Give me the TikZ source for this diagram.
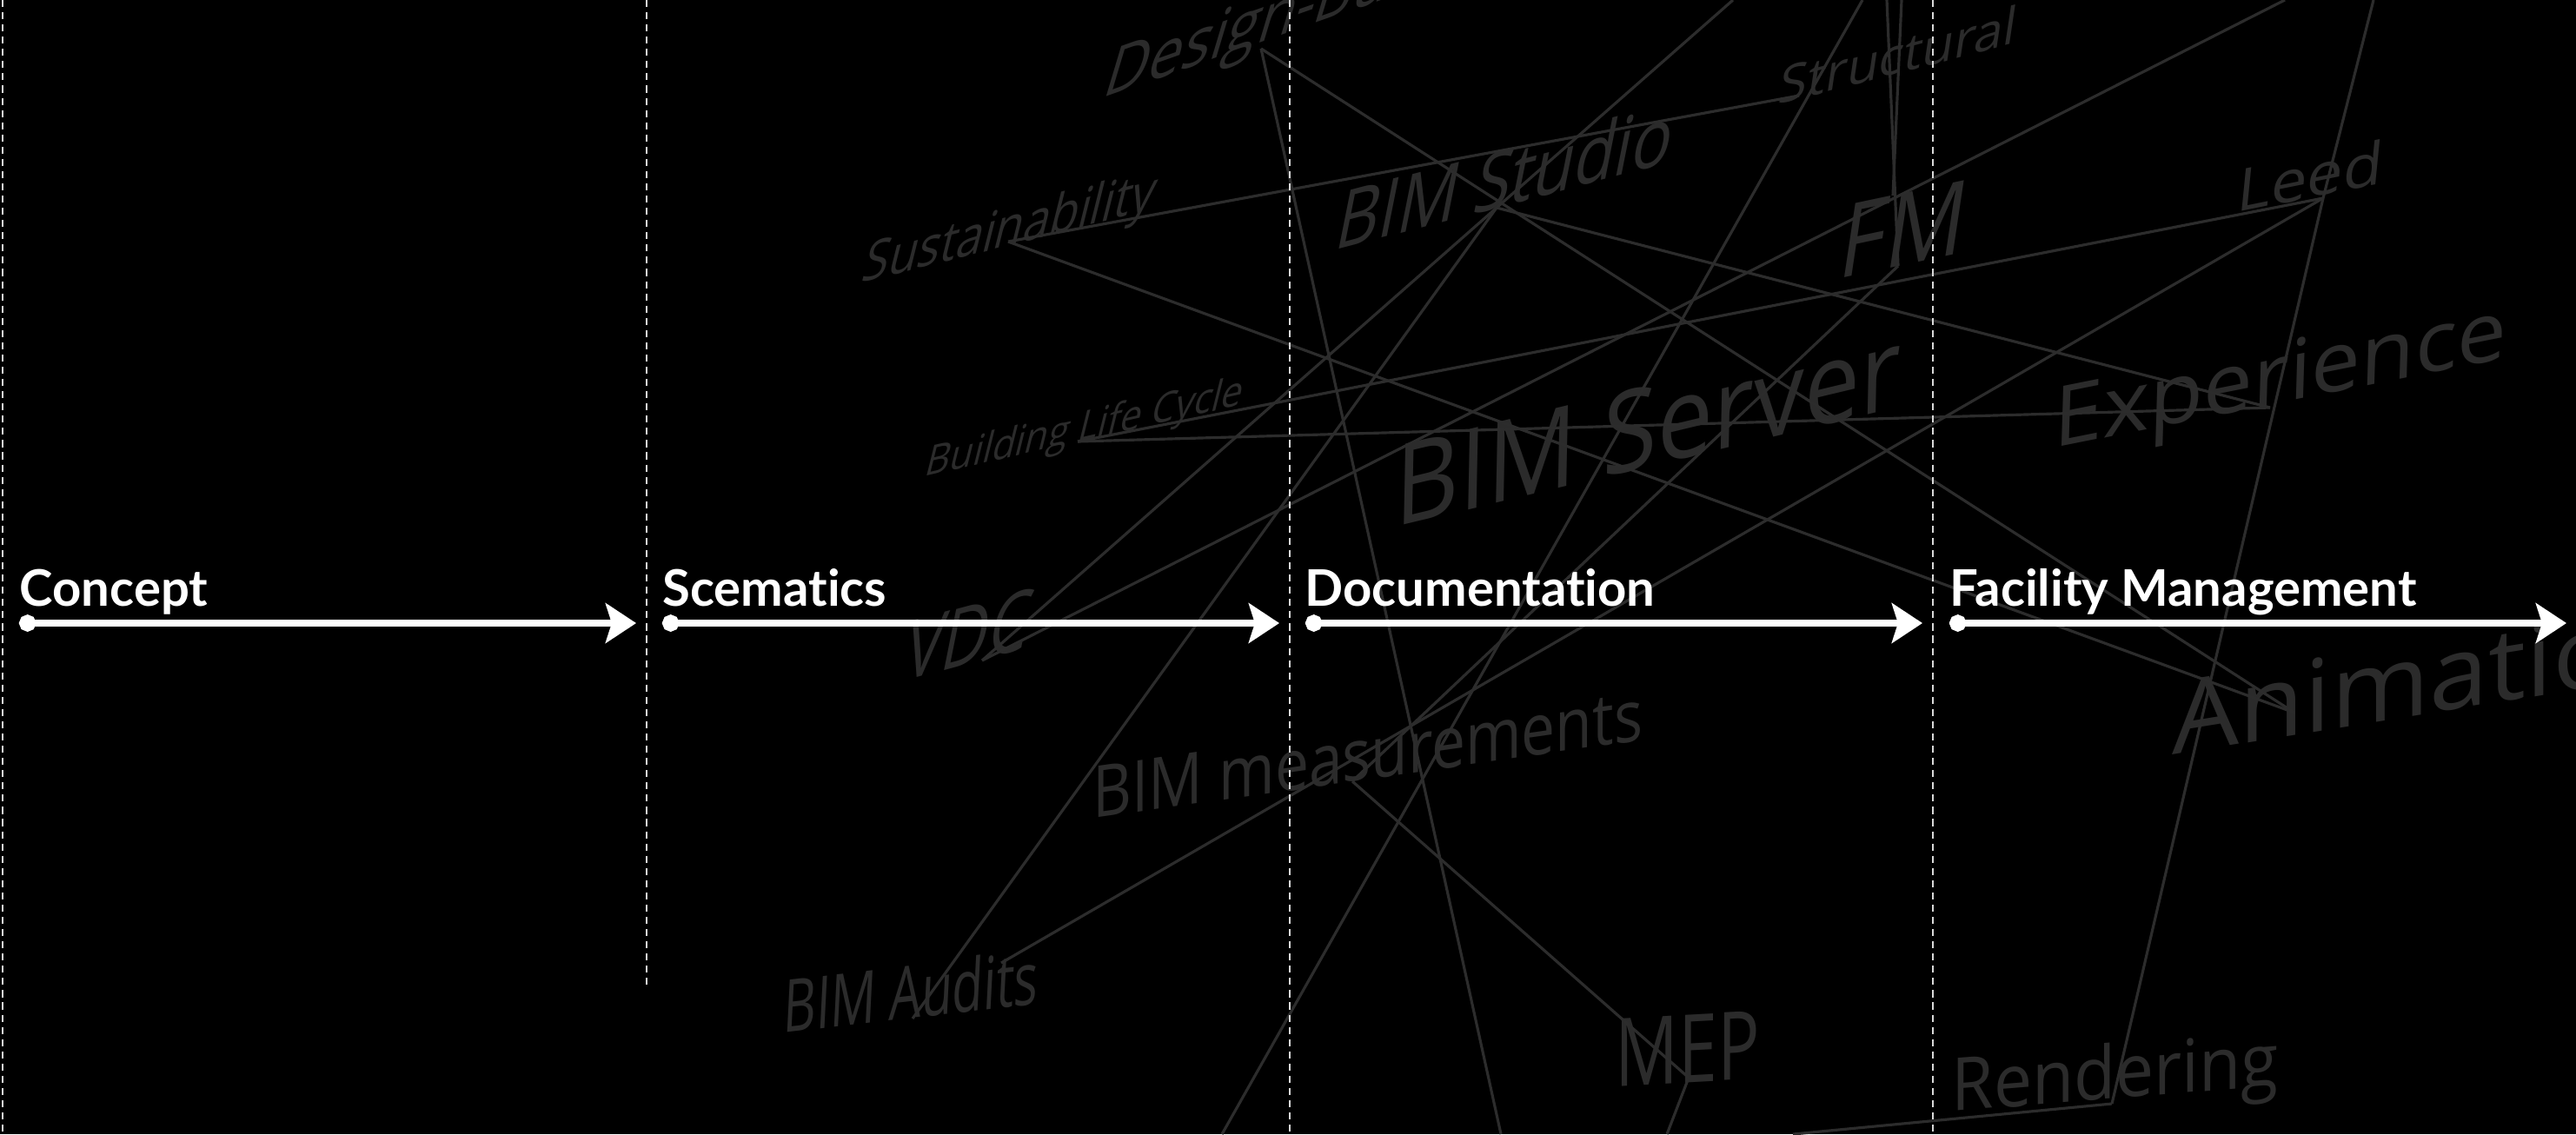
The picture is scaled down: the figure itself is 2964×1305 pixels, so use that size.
\documentclass[tikz,border=0pt]{standalone}
\usepackage{fontspec}
\usetikzlibrary{arrows.meta}
\newfontfamily\wordfont{Open Sans}
\newfontfamily\phasefont[Ligatures=NoCommon]{Lato}
\definecolor{wordgray}{HTML}{2B2B2B}
\definecolor{linkgray}{HTML}{2C2C2C}
\tikzset{
  word/.style={text=wordgray, inner sep=0pt, anchor=base west},
  link/.style={linkgray, line width=0.9pt},
  phase/.style={text=white, inner sep=0pt, anchor=base west, font=\phasefont\bfseries\fontsize{16.5}{18}\selectfont},
  phasearrow/.style={white, line width=2.3pt, {Circle[length=5.5pt]}-{Stealth[length=10pt,width=13pt,inset=2pt]}},
  divider/.style={white!85!black, line width=0.45pt, dash pattern=on 2.3pt off 1.7pt}
}

\begin{document}
\begin{tikzpicture}[x=0.01cm,y=-0.01cm]
\useasboundingbox (0,0) rectangle (2964,1305);
\fill[black] (0,0) rectangle (2964,1305);
\clip (0,0) rectangle (2964,1305);

% background words
\node[word, font=\wordfont\fontsize{23}{27}\selectfont, cm={0.85,0.3,0.3,1,(0,0)}] (designbuild) at (1266,114) {Design-Build};
\node[word, font=\wordfont\fontsize{18.5}{22}\selectfont, cm={0.83,0.21,0.25,1,(0,0)}] (sustain) at (989,326) {Sustainability};
\node[word, font=\wordfont\fontsize{14}{17}\selectfont, cm={0.88,0.2,0.25,1,(0,0)}] (lifecycle) at (1062,549) {Building Life Cycle};
\node[word, font=\wordfont\fontsize{27}{32}\selectfont, cm={0.8,0.21,0.2,1,(0,0)}] (studio) at (1533,289) {BIM Studio};
\node[word, font=\wordfont\fontsize{17}{20}\selectfont, cm={1,0.26,0.15,1,(0,0)}] (structural) at (2044,121) {Structural};
\node[word, font=\wordfont\fontsize{34}{40}\selectfont, cm={0.85,0.18,0.15,1,(0,0)}] (fm) at (2112,322) {FM};
\node[word, font=\wordfont\fontsize{19.5}{23}\selectfont, cm={1.08,0.22,0.1,1,(0,0)}] (leed) at (2572,245) {Leed};
\node[word, font=\wordfont\fontsize{27.5}{33}\selectfont, cm={1.05,0.21,0.03,1,(0,0)}] (experience) at (2362,516) {Experience};
\node[word, font=\wordfont\fontsize{37}{44}\selectfont, cm={0.88,0.21,0.02,1,(0,0)}] (server) at (1604,607) {BIM Server};
\node[word, font=\wordfont\fontsize{28}{33}\selectfont, cm={0.74,0.2,0.2,1,(0,0)}] (vdc) at (1036,785) {VDC};
\node[word, font=\wordfont\fontsize{23.5}{28}\selectfont, cm={0.84,0.12,0,1,(0,0)}] (measure) at (1257,942) {BIM measurements};
\node[word, font=\wordfont\fontsize{33}{39}\selectfont, cm={1.05,0.17,0,1,(0,0)}] (animation) at (2499,869) {Animation};
\node[word, font=\wordfont\fontsize{24}{28}\selectfont, cm={0.69,0.08,0.05,1,(0,0)}] (audits) at (900,1189) {BIM Audits};
\node[word, font=\wordfont\fontsize{31}{36}\selectfont, cm={0.74,0.04,0,1,(0,0)}] (mep) at (1858,1250) {MEP};
\node[word, font=\wordfont\fontsize{24}{28}\selectfont, cm={0.93,0.075,0,1,(0,0)}] (rendering) at (2245,1279) {Rendering};

% hubs
\coordinate (db) at (1451,56);
\coordinate (sus) at (1160,278);
\coordinate (blc) at (1240,508);
\coordinate (bs) at (1722,239);
\coordinate (st) at (2070,110);
\coordinate (fmlow) at (2184,306);
\coordinate (fmup) at (2178,225);
\coordinate (le) at (2673,228);
\coordinate (ex) at (2612,469);
\coordinate (vd) at (1130,760);
\coordinate (me) at (1556,899);
\coordinate (auA) at (1050,1172);
\coordinate (auB) at (1152,1108);
\coordinate (mp) at (1943,1240);
\coordinate (re) at (2430,1270);
\coordinate (an) at (2640,820);
% free ends
\coordinate (topA) at (1994,0);
\coordinate (topB) at (2629,0);
\coordinate (topC) at (2143,0);
\coordinate (topD) at (2171,0);
\coordinate (topE) at (2188,0);
\coordinate (topF) at (2731,0);
\coordinate (botA) at (1727,1305);
\coordinate (botB) at (1918,1305);
\coordinate (botC) at (1406,1305);
\coordinate (botD) at (2063,1305);

% links
\draw[link] (db) -- (botA);
\draw[link] (db) -- (an);
\draw[link] (sus) -- (st);
\draw[link] (sus) -- (an);
\draw[link] (blc) -- (ex);
\draw[link] (blc) -- (le);
\draw[link] (bs) -- (ex);
\draw[link] (topA) -- (bs) -- (vd);
\draw[link] (bs) -- (auA);
\draw[link] (vd) -- (topB);
\draw[link] (topC) -- (botC);
\draw[link] (topD) -- (fmlow);
\draw[link] (topE) -- (fmup);
\draw[link] (fmlow) -- (me);
\draw[link] (me) -- (mp);
\draw[link] (mp) -- (botB);
\draw[link] (auB) -- (le);
\draw[link] (topF) -- (le) -- (re);
\draw[link] (re) -- (botD);

% phase dividers
\draw[divider] (3,0) -- (3,1305);
\draw[divider] (744,0) -- (744,1134);
\draw[divider] (1484,0) -- (1484,1305);
\draw[divider] (2224,0) -- (2224,1305);

% phases
\node[phase] (concept) at (22,697) {Concept};
\node[phase] (scematics) at (762,697) {Scematics};
\node[phase] (documentation) at (1501,697) {Documentation};
\node[phase] (facility) at (2243,697) {Facility Management};

\draw[phasearrow] (22,717) -- (732,717);
\draw[phasearrow] (762,717) -- (1472,717);
\draw[phasearrow] (1502,717) -- (2212,717);
\draw[phasearrow] (2243,717) -- (2953,717);
\end{tikzpicture}
\end{document}
